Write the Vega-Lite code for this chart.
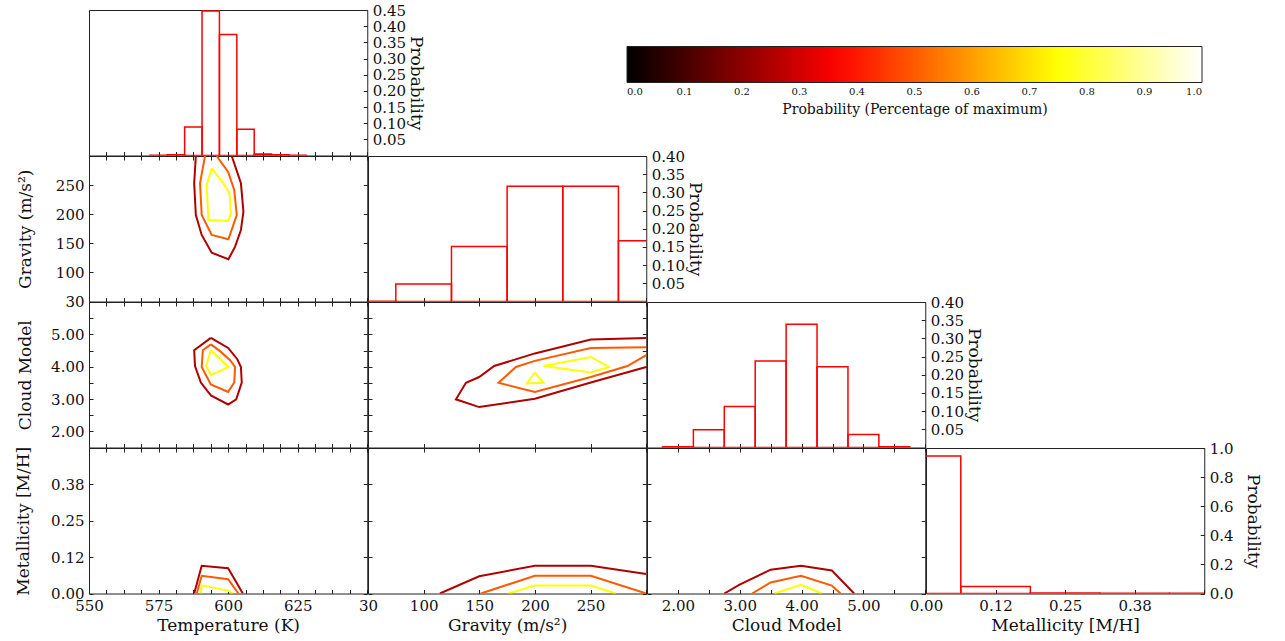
{
  "$schema": "https://vega.github.io/schema/vega-lite/v6.json",
  "padding": {"left": 13, "top": 2, "right": 5, "bottom": 5},
  "background": "white",
  "columns": 4,
  "spacing": 0,
  "bounds": "flush",
  "align": "all",
  "datasets": {
    "hist_temperature": [
      {"lo": 571.875, "hi": 578.125, "p": 0.001},
      {"lo": 578.125, "hi": 584.375, "p": 0.002},
      {"lo": 584.375, "hi": 590.625, "p": 0.088},
      {"lo": 590.625, "hi": 596.875, "p": 0.447},
      {"lo": 596.875, "hi": 603.125, "p": 0.374},
      {"lo": 603.125, "hi": 609.375, "p": 0.081},
      {"lo": 609.375, "hi": 615.625, "p": 0.005},
      {"lo": 615.625, "hi": 621.875, "p": 0.002},
      {"lo": 621.875, "hi": 628.125, "p": 0.001}
    ],
    "hist_gravity": [
      {"lo": 25, "hi": 75, "p": 0.0005},
      {"lo": 75, "hi": 125, "p": 0.048},
      {"lo": 125, "hi": 175, "p": 0.151},
      {"lo": 175, "hi": 225, "p": 0.317},
      {"lo": 225, "hi": 275, "p": 0.317},
      {"lo": 275, "hi": 325, "p": 0.167}
    ],
    "hist_cloud": [
      {"lo": 1.75, "hi": 2.25, "p": 0.002},
      {"lo": 2.25, "hi": 2.75, "p": 0.049},
      {"lo": 2.75, "hi": 3.25, "p": 0.113},
      {"lo": 3.25, "hi": 3.75, "p": 0.238},
      {"lo": 3.75, "hi": 4.25, "p": 0.339},
      {"lo": 4.25, "hi": 4.75, "p": 0.222},
      {"lo": 4.75, "hi": 5.25, "p": 0.036},
      {"lo": 5.25, "hi": 5.75, "p": 0.002}
    ],
    "hist_metal": [
      {"lo": -0.0625, "hi": 0.0625, "p": 0.945},
      {"lo": 0.0625, "hi": 0.1875, "p": 0.048},
      {"lo": 0.1875, "hi": 0.3125, "p": 0.004},
      {"lo": 0.3125, "hi": 0.4375, "p": 0.002},
      {"lo": 0.4375, "hi": 0.5625, "p": 0.001}
    ],
    "contour_temp_grav": [
      {"level": 0.25, "seg": "a", "i": 0, "temperature": 588.4, "gravity": 300},
      {"level": 0.25, "seg": "a", "i": 1, "temperature": 587.8, "gravity": 253.1},
      {"level": 0.25, "seg": "a", "i": 2, "temperature": 588.4, "gravity": 198.6},
      {"level": 0.25, "seg": "a", "i": 3, "temperature": 590.5, "gravity": 164.3},
      {"level": 0.25, "seg": "a", "i": 4, "temperature": 594.1, "gravity": 133.8},
      {"level": 0.25, "seg": "a", "i": 5, "temperature": 600.1, "gravity": 122.5},
      {"level": 0.25, "seg": "a", "i": 6, "temperature": 602.5, "gravity": 144.2},
      {"level": 0.25, "seg": "a", "i": 7, "temperature": 604.6, "gravity": 172.9},
      {"level": 0.25, "seg": "a", "i": 8, "temperature": 605.5, "gravity": 204.3},
      {"level": 0.25, "seg": "a", "i": 9, "temperature": 604.6, "gravity": 253.1},
      {"level": 0.25, "seg": "a", "i": 10, "temperature": 601.3, "gravity": 300},
      {"level": 0.5, "seg": "b", "i": 0, "temperature": 591.7, "gravity": 300},
      {"level": 0.5, "seg": "b", "i": 1, "temperature": 589.9, "gravity": 253.1},
      {"level": 0.5, "seg": "b", "i": 2, "temperature": 590.5, "gravity": 198.6},
      {"level": 0.5, "seg": "b", "i": 3, "temperature": 594.1, "gravity": 164.3},
      {"level": 0.5, "seg": "b", "i": 4, "temperature": 600.1, "gravity": 156.9},
      {"level": 0.5, "seg": "b", "i": 5, "temperature": 603.1, "gravity": 198.6},
      {"level": 0.5, "seg": "b", "i": 6, "temperature": 602.2, "gravity": 241.6},
      {"level": 0.5, "seg": "b", "i": 7, "temperature": 600.0, "gravity": 272.5},
      {"level": 0.5, "seg": "b", "i": 8, "temperature": 595.9, "gravity": 300},
      {"level": 0.75, "seg": "c", "i": 0, "temperature": 594.1, "gravity": 278.9},
      {"level": 0.75, "seg": "c", "i": 1, "temperature": 592.3, "gravity": 250.2},
      {"level": 0.75, "seg": "c", "i": 2, "temperature": 592.9, "gravity": 190.0},
      {"level": 0.75, "seg": "c", "i": 3, "temperature": 600.1, "gravity": 188.3},
      {"level": 0.75, "seg": "c", "i": 4, "temperature": 601.0, "gravity": 201.5},
      {"level": 0.75, "seg": "c", "i": 5, "temperature": 600.5, "gravity": 235.9},
      {"level": 0.75, "seg": "c", "i": 6, "temperature": 598.3, "gravity": 253.1},
      {"level": 0.75, "seg": "c", "i": 7, "temperature": 594.1, "gravity": 278.9}
    ],
    "contour_temp_cloud": [
      {"level": 0.25, "seg": "a", "i": 0, "temperature": 593.8, "cloud": 4.89},
      {"level": 0.25, "seg": "a", "i": 1, "temperature": 600.0, "cloud": 4.58},
      {"level": 0.25, "seg": "a", "i": 2, "temperature": 603.3, "cloud": 4.23},
      {"level": 0.25, "seg": "a", "i": 3, "temperature": 604.6, "cloud": 3.99},
      {"level": 0.25, "seg": "a", "i": 4, "temperature": 604.9, "cloud": 3.51},
      {"level": 0.25, "seg": "a", "i": 5, "temperature": 602.9, "cloud": 2.99},
      {"level": 0.25, "seg": "a", "i": 6, "temperature": 600.0, "cloud": 2.83},
      {"level": 0.25, "seg": "a", "i": 7, "temperature": 593.8, "cloud": 3.11},
      {"level": 0.25, "seg": "a", "i": 8, "temperature": 590.2, "cloud": 3.51},
      {"level": 0.25, "seg": "a", "i": 9, "temperature": 588.1, "cloud": 4.02},
      {"level": 0.25, "seg": "a", "i": 10, "temperature": 587.8, "cloud": 4.51},
      {"level": 0.25, "seg": "a", "i": 11, "temperature": 593.8, "cloud": 4.89},
      {"level": 0.5, "seg": "b", "i": 0, "temperature": 593.8, "cloud": 4.69},
      {"level": 0.5, "seg": "b", "i": 1, "temperature": 597.1, "cloud": 4.48},
      {"level": 0.5, "seg": "b", "i": 2, "temperature": 600.7, "cloud": 4.2},
      {"level": 0.5, "seg": "b", "i": 3, "temperature": 602.5, "cloud": 3.99},
      {"level": 0.5, "seg": "b", "i": 4, "temperature": 602.2, "cloud": 3.51},
      {"level": 0.5, "seg": "b", "i": 5, "temperature": 600.0, "cloud": 3.22},
      {"level": 0.5, "seg": "b", "i": 6, "temperature": 593.8, "cloud": 3.45},
      {"level": 0.5, "seg": "b", "i": 7, "temperature": 590.5, "cloud": 3.99},
      {"level": 0.5, "seg": "b", "i": 8, "temperature": 590.9, "cloud": 4.51},
      {"level": 0.5, "seg": "b", "i": 9, "temperature": 593.8, "cloud": 4.69},
      {"level": 0.75, "seg": "c", "i": 0, "temperature": 593.8, "cloud": 4.51},
      {"level": 0.75, "seg": "c", "i": 1, "temperature": 600.1, "cloud": 3.99},
      {"level": 0.75, "seg": "c", "i": 2, "temperature": 593.8, "cloud": 3.74},
      {"level": 0.75, "seg": "c", "i": 3, "temperature": 592.1, "cloud": 4.02},
      {"level": 0.75, "seg": "c", "i": 4, "temperature": 593.8, "cloud": 4.51}
    ],
    "contour_grav_cloud": [
      {"level": 0.25, "seg": "a", "i": 0, "gravity": 300, "cloud": 4.89},
      {"level": 0.25, "seg": "a", "i": 1, "gravity": 250.2, "cloud": 4.84},
      {"level": 0.25, "seg": "a", "i": 2, "gravity": 199.9, "cloud": 4.41},
      {"level": 0.25, "seg": "a", "i": 3, "gravity": 163.4, "cloud": 4.02},
      {"level": 0.25, "seg": "a", "i": 4, "gravity": 149.9, "cloud": 3.68},
      {"level": 0.25, "seg": "a", "i": 5, "gravity": 138.0, "cloud": 3.5},
      {"level": 0.25, "seg": "a", "i": 6, "gravity": 129.0, "cloud": 2.99},
      {"level": 0.25, "seg": "a", "i": 7, "gravity": 149.9, "cloud": 2.75},
      {"level": 0.25, "seg": "a", "i": 8, "gravity": 199.9, "cloud": 3.01},
      {"level": 0.25, "seg": "a", "i": 9, "gravity": 250.2, "cloud": 3.51},
      {"level": 0.25, "seg": "a", "i": 10, "gravity": 300, "cloud": 3.99},
      {"level": 0.5, "seg": "b", "i": 0, "gravity": 300, "cloud": 4.6},
      {"level": 0.5, "seg": "b", "i": 1, "gravity": 250.2, "cloud": 4.58},
      {"level": 0.5, "seg": "b", "i": 2, "gravity": 199.9, "cloud": 4.18},
      {"level": 0.5, "seg": "b", "i": 3, "gravity": 182.9, "cloud": 3.99},
      {"level": 0.5, "seg": "b", "i": 4, "gravity": 167.3, "cloud": 3.5},
      {"level": 0.5, "seg": "b", "i": 5, "gravity": 199.9, "cloud": 3.22},
      {"level": 0.5, "seg": "b", "i": 6, "gravity": 250.2, "cloud": 3.68},
      {"level": 0.5, "seg": "b", "i": 7, "gravity": 283.1, "cloud": 4.02},
      {"level": 0.5, "seg": "b", "i": 8, "gravity": 300, "cloud": 4.36},
      {"level": 0.75, "seg": "c", "i": 0, "gravity": 199.9, "cloud": 3.82},
      {"level": 0.75, "seg": "c", "i": 1, "gravity": 207.7, "cloud": 3.5},
      {"level": 0.75, "seg": "c", "i": 2, "gravity": 192.7, "cloud": 3.48},
      {"level": 0.75, "seg": "c", "i": 3, "gravity": 199.9, "cloud": 3.82},
      {"level": 0.75, "seg": "d", "i": 0, "gravity": 207.7, "cloud": 4.02},
      {"level": 0.75, "seg": "d", "i": 1, "gravity": 250.2, "cloud": 4.3},
      {"level": 0.75, "seg": "d", "i": 2, "gravity": 266.6, "cloud": 3.99},
      {"level": 0.75, "seg": "d", "i": 3, "gravity": 250.2, "cloud": 3.82},
      {"level": 0.75, "seg": "d", "i": 4, "gravity": 207.7, "cloud": 4.02}
    ],
    "contour_temp_metal": [
      {"level": 0.25, "seg": "a", "i": 0, "temperature": 587.8, "metallicity": 0},
      {"level": 0.25, "seg": "a", "i": 1, "temperature": 590.5, "metallicity": 0.0955},
      {"level": 0.25, "seg": "a", "i": 2, "temperature": 600.0, "metallicity": 0.087},
      {"level": 0.25, "seg": "a", "i": 3, "temperature": 605.3, "metallicity": 0},
      {"level": 0.5, "seg": "b", "i": 0, "temperature": 588.7, "metallicity": 0},
      {"level": 0.5, "seg": "b", "i": 1, "temperature": 590.5, "metallicity": 0.061},
      {"level": 0.5, "seg": "b", "i": 2, "temperature": 600.0, "metallicity": 0.049},
      {"level": 0.5, "seg": "b", "i": 3, "temperature": 603.7, "metallicity": 0},
      {"level": 0.75, "seg": "c", "i": 0, "temperature": 590.2, "metallicity": 0},
      {"level": 0.75, "seg": "c", "i": 1, "temperature": 590.5, "metallicity": 0.028},
      {"level": 0.75, "seg": "c", "i": 2, "temperature": 600.0, "metallicity": 0.01},
      {"level": 0.75, "seg": "c", "i": 3, "temperature": 601.7, "metallicity": 0}
    ],
    "contour_grav_metal": [
      {"level": 0.25, "seg": "a", "i": 0, "gravity": 114.6, "metallicity": 0},
      {"level": 0.25, "seg": "a", "i": 1, "gravity": 149.9, "metallicity": 0.059},
      {"level": 0.25, "seg": "a", "i": 2, "gravity": 199.9, "metallicity": 0.0955},
      {"level": 0.25, "seg": "a", "i": 3, "gravity": 250.2, "metallicity": 0.0955},
      {"level": 0.25, "seg": "a", "i": 4, "gravity": 300, "metallicity": 0.067},
      {"level": 0.5, "seg": "b", "i": 0, "gravity": 151.4, "metallicity": 0},
      {"level": 0.5, "seg": "b", "i": 1, "gravity": 199.9, "metallicity": 0.061},
      {"level": 0.5, "seg": "b", "i": 2, "gravity": 250.2, "metallicity": 0.061},
      {"level": 0.5, "seg": "b", "i": 3, "gravity": 300, "metallicity": 0},
      {"level": 0.75, "seg": "c", "i": 0, "gravity": 176.3, "metallicity": 0},
      {"level": 0.75, "seg": "c", "i": 1, "gravity": 199.9, "metallicity": 0.0276},
      {"level": 0.75, "seg": "c", "i": 2, "gravity": 250.2, "metallicity": 0.0276},
      {"level": 0.75, "seg": "c", "i": 3, "gravity": 272.6, "metallicity": 0}
    ],
    "contour_cloud_metal": [
      {"level": 0.25, "seg": "a", "i": 0, "cloud": 2.75, "metallicity": 0},
      {"level": 0.25, "seg": "a", "i": 1, "cloud": 2.99, "metallicity": 0.03},
      {"level": 0.25, "seg": "a", "i": 2, "cloud": 3.5, "metallicity": 0.082},
      {"level": 0.25, "seg": "a", "i": 3, "cloud": 3.99, "metallicity": 0.0955},
      {"level": 0.25, "seg": "a", "i": 4, "cloud": 4.49, "metallicity": 0.079},
      {"level": 0.25, "seg": "a", "i": 5, "cloud": 4.85, "metallicity": 0},
      {"level": 0.5, "seg": "b", "i": 0, "cloud": 3.2, "metallicity": 0},
      {"level": 0.5, "seg": "b", "i": 1, "cloud": 3.5, "metallicity": 0.038},
      {"level": 0.5, "seg": "b", "i": 2, "cloud": 3.99, "metallicity": 0.061},
      {"level": 0.5, "seg": "b", "i": 3, "cloud": 4.49, "metallicity": 0.027},
      {"level": 0.5, "seg": "b", "i": 4, "cloud": 4.63, "metallicity": 0},
      {"level": 0.75, "seg": "c", "i": 0, "cloud": 3.56, "metallicity": 0},
      {"level": 0.75, "seg": "c", "i": 1, "cloud": 3.99, "metallicity": 0.03},
      {"level": 0.75, "seg": "c", "i": 2, "cloud": 4.33, "metallicity": 0}
    ]
  },
  "concat": [
    {
      "width": 278.25, "height": 145.5,
      "data": {"name": "hist_temperature"},
      "mark": {"type": "rect", "filled": false, "color": "#ff0000", "strokeWidth": 1.5, "clip": true},
      "encoding": {
        "x": {"field": "lo", "type": "quantitative", "scale": {"domain": [550, 650], "nice": false, "zero": false}, "axis": {"orient": "bottom", "values": [550,556.25,562.5,568.75,575,581.25,587.5,593.75,600,606.25,612.5,618.75,625,631.25,637.5,643.75,650], "labels": false, "title": null}},
        "x2": {"field": "hi"},
        "y": {"field": "p", "type": "quantitative", "scale": {"domain": [0, 0.45], "nice": false, "zero": false}, "axis": {"orient": "right", "values": [0,0.05,0.1,0.15,0.2,0.25,0.3,0.35,0.4,0.45], "labelExpr": "datum.value > 0.001 ? format(datum.value, '.2f') : ''", "title": "Probability", "titleX": 48, "titleBaseline": "middle"}},
        "y2": {"datum": 0}
      }
    },
    {"width": 278.25, "height": 145.5, "data": {"values": []}, "mark": {"type": "point", "opacity": 0}, "view": {"stroke": null}},
    {"width": 278.25, "height": 145.5, "data": {"values": []}, "mark": {"type": "point", "opacity": 0}, "view": {"stroke": null}},
    {"width": 278.25, "height": 145.5, "data": {"values": []}, "mark": {"type": "point", "opacity": 0}, "view": {"stroke": null}},

    {
      "width": 278.25, "height": 145.5,
      "data": {"name": "contour_temp_grav"},
      "layer": [
        {
          "mark": {"type": "line", "strokeWidth": 2, "clip": true},
          "encoding": {
            "x": {"field": "temperature", "type": "quantitative", "scale": {"domain": [550, 650], "nice": false, "zero": false}, "axis": {"orient": "bottom", "values": [550,556.25,562.5,568.75,575,581.25,587.5,593.75,600,606.25,612.5,618.75,625,631.25,637.5,643.75,650], "labels": false, "title": null}},
            "y": {"field": "gravity", "type": "quantitative", "scale": {"domain": [50, 300], "nice": false, "zero": false}, "axis": {"orient": "left", "values": [50,100,150,200,250,300], "labelExpr": "datum.value == 50 ? '30' : datum.value < 300 ? format(datum.value, 'd') : ''", "title": "Gravity (m/s²)", "titleX": -64, "titleBaseline": "middle"}},
            "color": {"field": "level", "type": "quantitative", "title": "Probability (Percentage of maximum)", "scale": {"domain": [0, 0.365, 0.746, 1], "range": ["#000000", "#ff0000", "#ffff00", "#ffffff"], "interpolate": "rgb"}, "legend": {"type": "gradient", "orient": "none", "legendX": 538, "legendY": 36.5, "direction": "horizontal", "gradientLength": 575, "gradientThickness": 36, "values": [0,0.1,0.2,0.3,0.4,0.5,0.6,0.7,0.8,0.9,1], "format": ".1f", "titleOrient": "bottom", "titleAnchor": "middle", "titlePadding": 6, "titleLimit": 800, "labelFont": "DejaVu Serif", "labelFontSize": 10, "labelOffset": 4, "labelAlign": "center", "labelOverlap": false, "labelColor": "#111", "titleFont": "DejaVu Serif", "titleFontSize": 14, "titleFontWeight": "normal", "titleColor": "#111", "gradientStrokeColor": "#222", "gradientStrokeWidth": 1}},
            "detail": {"field": "seg"},
            "order": {"field": "i"}
          }
        },
        {
          "mark": {"type": "point", "opacity": 0},
          "encoding": {
            "x": {"field": "temperature", "type": "quantitative", "scale": {"domain": [550, 650], "nice": false, "zero": false}, "axis": {"orient": "top", "values": [550,556.25,562.5,568.75,575,581.25,587.5,593.75,600,606.25,612.5,618.75,625,631.25,637.5,643.75,650], "labels": false, "title": null}},
            "y": {"field": "gravity", "type": "quantitative", "scale": {"domain": [50, 300], "nice": false, "zero": false}, "axis": {"orient": "right", "values": [50,100,150,200,250,300], "labels": false, "title": null}}
          }
        }
      ],
      "resolve": {"axis": {"x": "independent", "y": "independent"}}
    },
    {
      "width": 278.25, "height": 145.5,
      "data": {"name": "hist_gravity"},
      "mark": {"type": "rect", "filled": false, "color": "#ff0000", "strokeWidth": 1.5, "clip": true},
      "encoding": {
        "x": {"field": "lo", "type": "quantitative", "scale": {"domain": [50, 300], "nice": false, "zero": false}, "axis": {"orient": "bottom", "values": [50,100,150,200,250,300], "labels": false, "title": null}},
        "x2": {"field": "hi"},
        "y": {"field": "p", "type": "quantitative", "scale": {"domain": [0, 0.4], "nice": false, "zero": false}, "axis": {"orient": "right", "values": [0,0.05,0.1,0.15,0.2,0.25,0.3,0.35,0.4], "labelExpr": "datum.value > 0.001 ? format(datum.value, '.2f') : ''", "title": "Probability", "titleX": 48, "titleBaseline": "middle"}},
        "y2": {"datum": 0}
      }
    },
    {"width": 278.25, "height": 145.5, "data": {"values": []}, "mark": {"type": "point", "opacity": 0}, "view": {"stroke": null}},
    {"width": 278.25, "height": 145.5, "data": {"values": []}, "mark": {"type": "point", "opacity": 0}, "view": {"stroke": null}},

    {
      "width": 278.25, "height": 145.5,
      "data": {"name": "contour_temp_cloud"},
      "layer": [
        {
          "mark": {"type": "line", "strokeWidth": 2, "clip": true},
          "encoding": {
            "x": {"field": "temperature", "type": "quantitative", "scale": {"domain": [550, 650], "nice": false, "zero": false}, "axis": {"orient": "bottom", "values": [550,556.25,562.5,568.75,575,581.25,587.5,593.75,600,606.25,612.5,618.75,625,631.25,637.5,643.75,650], "labels": false, "title": null}},
            "y": {"field": "cloud", "type": "quantitative", "scale": {"domain": [1.5, 6], "nice": false, "zero": false}, "axis": {"orient": "left", "values": [1.5,2,2.5,3,3.5,4,4.5,5,5.5,6], "labelExpr": "datum.value % 1 == 0 && datum.value < 6 ? format(datum.value, '.2f') : ''", "title": "Cloud Model", "titleX": -64, "titleBaseline": "middle"}},
            "color": {"field": "level", "type": "quantitative", "title": "Probability (Percentage of maximum)", "scale": {"domain": [0, 0.365, 0.746, 1], "range": ["#000000", "#ff0000", "#ffff00", "#ffffff"], "interpolate": "rgb"}, "legend": {"type": "gradient", "orient": "none", "legendX": 538, "legendY": 36.5, "direction": "horizontal", "gradientLength": 575, "gradientThickness": 36, "values": [0,0.1,0.2,0.3,0.4,0.5,0.6,0.7,0.8,0.9,1], "format": ".1f", "titleOrient": "bottom", "titleAnchor": "middle", "titlePadding": 6, "titleLimit": 800, "labelFont": "DejaVu Serif", "labelFontSize": 10, "labelOffset": 4, "labelAlign": "center", "labelOverlap": false, "labelColor": "#111", "titleFont": "DejaVu Serif", "titleFontSize": 14, "titleFontWeight": "normal", "titleColor": "#111", "gradientStrokeColor": "#222", "gradientStrokeWidth": 1}},
            "detail": {"field": "seg"},
            "order": {"field": "i"}
          }
        },
        {
          "mark": {"type": "point", "opacity": 0},
          "encoding": {
            "x": {"field": "temperature", "type": "quantitative", "scale": {"domain": [550, 650], "nice": false, "zero": false}, "axis": {"orient": "top", "values": [550,556.25,562.5,568.75,575,581.25,587.5,593.75,600,606.25,612.5,618.75,625,631.25,637.5,643.75,650], "labels": false, "title": null}},
            "y": {"field": "cloud", "type": "quantitative", "scale": {"domain": [1.5, 6], "nice": false, "zero": false}, "axis": {"orient": "right", "values": [1.5,2,2.5,3,3.5,4,4.5,5,5.5,6], "labels": false, "title": null}}
          }
        }
      ],
      "resolve": {"axis": {"x": "independent", "y": "independent"}}
    },
    {
      "width": 278.25, "height": 145.5,
      "data": {"name": "contour_grav_cloud"},
      "layer": [
        {
          "mark": {"type": "line", "strokeWidth": 2, "clip": true},
          "encoding": {
            "x": {"field": "gravity", "type": "quantitative", "scale": {"domain": [50, 300], "nice": false, "zero": false}, "axis": {"orient": "bottom", "values": [50,100,150,200,250,300], "labels": false, "title": null}},
            "y": {"field": "cloud", "type": "quantitative", "scale": {"domain": [1.5, 6], "nice": false, "zero": false}, "axis": {"orient": "left", "values": [1.5,2,2.5,3,3.5,4,4.5,5,5.5,6], "labels": false, "title": null}},
            "color": {"field": "level", "type": "quantitative", "title": "Probability (Percentage of maximum)", "scale": {"domain": [0, 0.365, 0.746, 1], "range": ["#000000", "#ff0000", "#ffff00", "#ffffff"], "interpolate": "rgb"}, "legend": {"type": "gradient", "orient": "none", "legendX": 538, "legendY": 36.5, "direction": "horizontal", "gradientLength": 575, "gradientThickness": 36, "values": [0,0.1,0.2,0.3,0.4,0.5,0.6,0.7,0.8,0.9,1], "format": ".1f", "titleOrient": "bottom", "titleAnchor": "middle", "titlePadding": 6, "titleLimit": 800, "labelFont": "DejaVu Serif", "labelFontSize": 10, "labelOffset": 4, "labelAlign": "center", "labelOverlap": false, "labelColor": "#111", "titleFont": "DejaVu Serif", "titleFontSize": 14, "titleFontWeight": "normal", "titleColor": "#111", "gradientStrokeColor": "#222", "gradientStrokeWidth": 1}},
            "detail": {"field": "seg"},
            "order": {"field": "i"}
          }
        },
        {
          "mark": {"type": "point", "opacity": 0},
          "encoding": {
            "x": {"field": "gravity", "type": "quantitative", "scale": {"domain": [50, 300], "nice": false, "zero": false}, "axis": {"orient": "top", "values": [50,100,150,200,250,300], "labels": false, "title": null}},
            "y": {"field": "cloud", "type": "quantitative", "scale": {"domain": [1.5, 6], "nice": false, "zero": false}, "axis": {"orient": "right", "values": [1.5,2,2.5,3,3.5,4,4.5,5,5.5,6], "labels": false, "title": null}}
          }
        }
      ],
      "resolve": {"axis": {"x": "independent", "y": "independent"}}
    },
    {
      "width": 278.25, "height": 145.5,
      "data": {"name": "hist_cloud"},
      "mark": {"type": "rect", "filled": false, "color": "#ff0000", "strokeWidth": 1.5, "clip": true},
      "encoding": {
        "x": {"field": "lo", "type": "quantitative", "scale": {"domain": [1.5, 6], "nice": false, "zero": false}, "axis": {"orient": "bottom", "values": [1.5,2,2.5,3,3.5,4,4.5,5,5.5,6], "labels": false, "title": null}},
        "x2": {"field": "hi"},
        "y": {"field": "p", "type": "quantitative", "scale": {"domain": [0, 0.4], "nice": false, "zero": false}, "axis": {"orient": "right", "values": [0,0.05,0.1,0.15,0.2,0.25,0.3,0.35,0.4], "labelExpr": "datum.value > 0.001 ? format(datum.value, '.2f') : ''", "title": "Probability", "titleX": 48, "titleBaseline": "middle"}},
        "y2": {"datum": 0}
      }
    },
    {"width": 278.25, "height": 145.5, "data": {"values": []}, "mark": {"type": "point", "opacity": 0}, "view": {"stroke": null}},

    {
      "width": 278.25, "height": 145.5,
      "data": {"name": "contour_temp_metal"},
      "layer": [
        {
          "mark": {"type": "line", "strokeWidth": 2, "clip": true},
          "encoding": {
            "x": {"field": "temperature", "type": "quantitative", "scale": {"domain": [550, 650], "nice": false, "zero": false}, "axis": {"orient": "bottom", "values": [550,556.25,562.5,568.75,575,581.25,587.5,593.75,600,606.25,612.5,618.75,625,631.25,637.5,643.75,650], "labelExpr": "datum.value % 25 == 0 && datum.value < 650 ? format(datum.value, 'd') : ''", "title": "Temperature (K)", "titleY": 32, "titleBaseline": "middle"}},
            "y": {"field": "metallicity", "type": "quantitative", "scale": {"domain": [0, 0.5], "nice": false, "zero": false}, "axis": {"orient": "left", "values": [0,0.125,0.25,0.375,0.5], "labelExpr": "datum.value == 0 ? '0.00' : datum.value == 0.125 ? '0.12' : datum.value == 0.25 ? '0.25' : datum.value == 0.375 ? '0.38' : ''", "title": "Metallicity [M/H]", "titleX": -66, "titleBaseline": "middle"}},
            "color": {"field": "level", "type": "quantitative", "title": "Probability (Percentage of maximum)", "scale": {"domain": [0, 0.365, 0.746, 1], "range": ["#000000", "#ff0000", "#ffff00", "#ffffff"], "interpolate": "rgb"}, "legend": {"type": "gradient", "orient": "none", "legendX": 538, "legendY": 36.5, "direction": "horizontal", "gradientLength": 575, "gradientThickness": 36, "values": [0,0.1,0.2,0.3,0.4,0.5,0.6,0.7,0.8,0.9,1], "format": ".1f", "titleOrient": "bottom", "titleAnchor": "middle", "titlePadding": 6, "titleLimit": 800, "labelFont": "DejaVu Serif", "labelFontSize": 10, "labelOffset": 4, "labelAlign": "center", "labelOverlap": false, "labelColor": "#111", "titleFont": "DejaVu Serif", "titleFontSize": 14, "titleFontWeight": "normal", "titleColor": "#111", "gradientStrokeColor": "#222", "gradientStrokeWidth": 1}},
            "detail": {"field": "seg"},
            "order": {"field": "i"}
          }
        },
        {
          "mark": {"type": "point", "opacity": 0},
          "encoding": {
            "x": {"field": "temperature", "type": "quantitative", "scale": {"domain": [550, 650], "nice": false, "zero": false}, "axis": {"orient": "top", "values": [550,556.25,562.5,568.75,575,581.25,587.5,593.75,600,606.25,612.5,618.75,625,631.25,637.5,643.75,650], "labels": false, "title": null}},
            "y": {"field": "metallicity", "type": "quantitative", "scale": {"domain": [0, 0.5], "nice": false, "zero": false}, "axis": {"orient": "right", "values": [0,0.125,0.25,0.375,0.5], "labels": false, "title": null}}
          }
        }
      ],
      "resolve": {"axis": {"x": "independent", "y": "independent"}}
    },
    {
      "width": 278.25, "height": 145.5,
      "data": {"name": "contour_grav_metal"},
      "layer": [
        {
          "mark": {"type": "line", "strokeWidth": 2, "clip": true},
          "encoding": {
            "x": {"field": "gravity", "type": "quantitative", "scale": {"domain": [50, 300], "nice": false, "zero": false}, "axis": {"orient": "bottom", "values": [50,100,150,200,250,300], "labelExpr": "datum.value == 50 ? '30' : datum.value < 300 ? format(datum.value, 'd') : ''", "title": "Gravity (m/s²)", "titleY": 32, "titleBaseline": "middle"}},
            "y": {"field": "metallicity", "type": "quantitative", "scale": {"domain": [0, 0.5], "nice": false, "zero": false}, "axis": {"orient": "left", "values": [0,0.125,0.25,0.375,0.5], "labels": false, "title": null}},
            "color": {"field": "level", "type": "quantitative", "title": "Probability (Percentage of maximum)", "scale": {"domain": [0, 0.365, 0.746, 1], "range": ["#000000", "#ff0000", "#ffff00", "#ffffff"], "interpolate": "rgb"}, "legend": {"type": "gradient", "orient": "none", "legendX": 538, "legendY": 36.5, "direction": "horizontal", "gradientLength": 575, "gradientThickness": 36, "values": [0,0.1,0.2,0.3,0.4,0.5,0.6,0.7,0.8,0.9,1], "format": ".1f", "titleOrient": "bottom", "titleAnchor": "middle", "titlePadding": 6, "titleLimit": 800, "labelFont": "DejaVu Serif", "labelFontSize": 10, "labelOffset": 4, "labelAlign": "center", "labelOverlap": false, "labelColor": "#111", "titleFont": "DejaVu Serif", "titleFontSize": 14, "titleFontWeight": "normal", "titleColor": "#111", "gradientStrokeColor": "#222", "gradientStrokeWidth": 1}},
            "detail": {"field": "seg"},
            "order": {"field": "i"}
          }
        },
        {
          "mark": {"type": "point", "opacity": 0},
          "encoding": {
            "x": {"field": "gravity", "type": "quantitative", "scale": {"domain": [50, 300], "nice": false, "zero": false}, "axis": {"orient": "top", "values": [50,100,150,200,250,300], "labels": false, "title": null}},
            "y": {"field": "metallicity", "type": "quantitative", "scale": {"domain": [0, 0.5], "nice": false, "zero": false}, "axis": {"orient": "right", "values": [0,0.125,0.25,0.375,0.5], "labels": false, "title": null}}
          }
        }
      ],
      "resolve": {"axis": {"x": "independent", "y": "independent"}}
    },
    {
      "width": 278.25, "height": 145.5,
      "data": {"name": "contour_cloud_metal"},
      "layer": [
        {
          "mark": {"type": "line", "strokeWidth": 2, "clip": true},
          "encoding": {
            "x": {"field": "cloud", "type": "quantitative", "scale": {"domain": [1.5, 6], "nice": false, "zero": false}, "axis": {"orient": "bottom", "values": [1.5,2,2.5,3,3.5,4,4.5,5,5.5,6], "labelExpr": "datum.value % 1 == 0 && datum.value < 6 ? format(datum.value, '.2f') : ''", "title": "Cloud Model", "titleY": 32, "titleBaseline": "middle"}},
            "y": {"field": "metallicity", "type": "quantitative", "scale": {"domain": [0, 0.5], "nice": false, "zero": false}, "axis": {"orient": "left", "values": [0,0.125,0.25,0.375,0.5], "labels": false, "title": null}},
            "color": {"field": "level", "type": "quantitative", "title": "Probability (Percentage of maximum)", "scale": {"domain": [0, 0.365, 0.746, 1], "range": ["#000000", "#ff0000", "#ffff00", "#ffffff"], "interpolate": "rgb"}, "legend": {"type": "gradient", "orient": "none", "legendX": 538, "legendY": 36.5, "direction": "horizontal", "gradientLength": 575, "gradientThickness": 36, "values": [0,0.1,0.2,0.3,0.4,0.5,0.6,0.7,0.8,0.9,1], "format": ".1f", "titleOrient": "bottom", "titleAnchor": "middle", "titlePadding": 6, "titleLimit": 800, "labelFont": "DejaVu Serif", "labelFontSize": 10, "labelOffset": 4, "labelAlign": "center", "labelOverlap": false, "labelColor": "#111", "titleFont": "DejaVu Serif", "titleFontSize": 14, "titleFontWeight": "normal", "titleColor": "#111", "gradientStrokeColor": "#222", "gradientStrokeWidth": 1}},
            "detail": {"field": "seg"},
            "order": {"field": "i"}
          }
        },
        {
          "mark": {"type": "point", "opacity": 0},
          "encoding": {
            "x": {"field": "cloud", "type": "quantitative", "scale": {"domain": [1.5, 6], "nice": false, "zero": false}, "axis": {"orient": "top", "values": [1.5,2,2.5,3,3.5,4,4.5,5,5.5,6], "labels": false, "title": null}},
            "y": {"field": "metallicity", "type": "quantitative", "scale": {"domain": [0, 0.5], "nice": false, "zero": false}, "axis": {"orient": "right", "values": [0,0.125,0.25,0.375,0.5], "labels": false, "title": null}}
          }
        }
      ],
      "resolve": {"axis": {"x": "independent", "y": "independent"}}
    },
    {
      "width": 278.25, "height": 145.5,
      "data": {"name": "hist_metal"},
      "mark": {"type": "rect", "filled": false, "color": "#ff0000", "strokeWidth": 1.5, "clip": true},
      "encoding": {
        "x": {"field": "lo", "type": "quantitative", "scale": {"domain": [0, 0.5], "nice": false, "zero": false}, "axis": {"orient": "bottom", "values": [0,0.125,0.25,0.375,0.5], "labelExpr": "datum.value == 0 ? '0.00' : datum.value == 0.125 ? '0.12' : datum.value == 0.25 ? '0.25' : datum.value == 0.375 ? '0.38' : ''", "title": "Metallicity [M/H]", "titleY": 32, "titleBaseline": "middle"}},
        "x2": {"field": "hi"},
        "y": {"field": "p", "type": "quantitative", "scale": {"domain": [0, 1], "nice": false, "zero": false}, "axis": {"orient": "right", "values": [0,0.2,0.4,0.6,0.8,1], "format": ".1f", "title": "Probability", "titleX": 48, "titleBaseline": "middle"}},
        "y2": {"datum": 0}
      }
    }
  ],
  "config": {
    "font": "DejaVu Serif",
    "view": {"stroke": "#222", "strokeWidth": 1},
    "axis": {
      "grid": false,
      "domain": false,
      "tickSize": -4,
      "tickColor": "#222",
      "tickWidth": 1,
      "labelPadding": 9,
      "labelFont": "DejaVu Serif",
      "labelFontSize": 15,
      "labelColor": "#111",
      "titleFont": "DejaVu Serif",
      "titleFontSize": 17,
      "titleFontWeight": "normal",
      "titleColor": "#111",
      "labelFlush": false,
      "labelOverlap": false,
      "labelBound": false
    }
  }
}
